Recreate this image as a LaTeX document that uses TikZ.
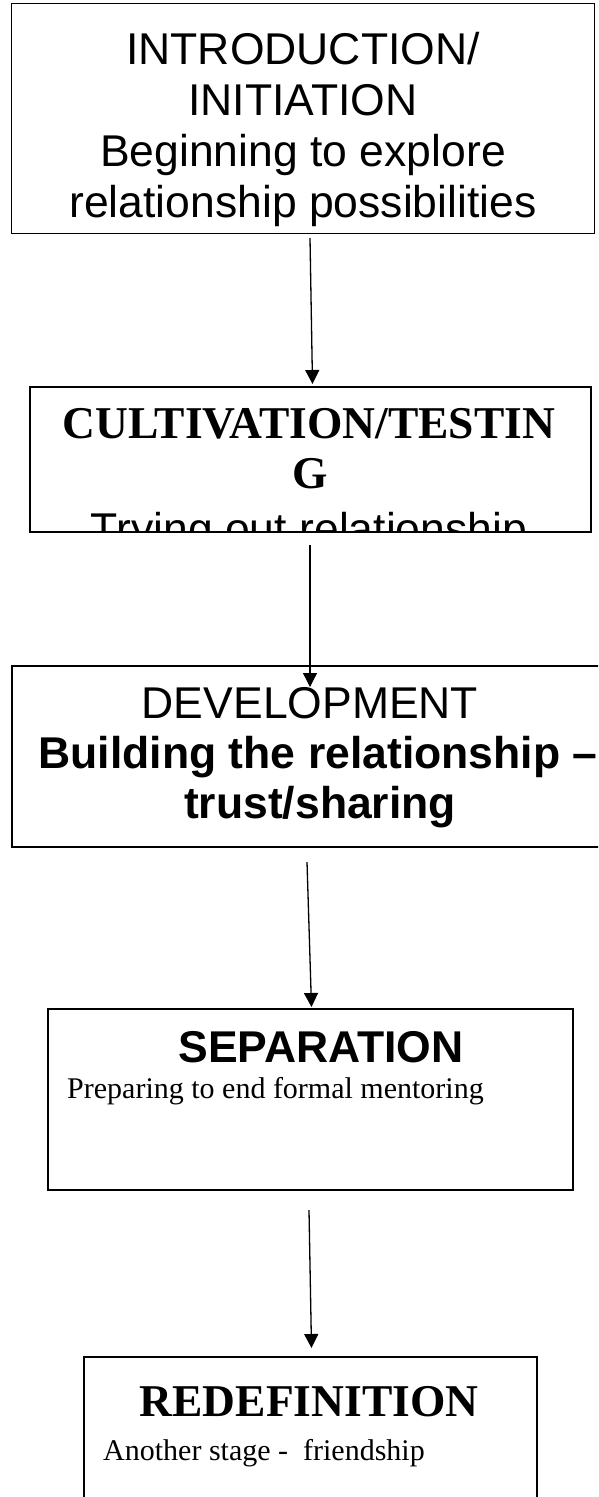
\documentclass[tikz,border=0pt]{standalone}
\usepackage{fontspec}
\setmainfont{Liberation Serif}
\newfontfamily\arialf{Liberation Sans}
\usetikzlibrary{arrows.meta}
\tikzset{
  stagebox/.style={draw=black, line width=1.6pt, rectangle, inner sep=0pt, anchor=north west},
  sansreg/.style={anchor=base, inner sep=0pt, font=\arialf\fontsize{44.5}{50}\selectfont},
  sansbold/.style={anchor=base, inner sep=0pt, font=\arialf\bfseries\fontsize{44.5}{50}\selectfont},
  serifbold/.style={anchor=base, inner sep=0pt, font=\bfseries\fontsize{45.5}{50}\selectfont},
  serifreg/.style={anchor=base west, inner sep=0pt, font=\fontsize{30}{34}\selectfont},
  flowarrow/.style={line width=1.3pt, -{Triangle[width=14pt,length=14pt]}}
}
\begin{document}
\begin{tikzpicture}[x=1pt,y=-1pt]
\clip (0,0) rectangle (598,1497);
\fill[white] (0,0) rectangle (598,1497);
% Box 1
\node[stagebox, minimum width=583pt, minimum height=230pt] (b1) at (10.7,2.5) {};
\node[sansreg] (t1a) at (303,64) {INTRODUCTION/};
\node[sansreg] (t1b) at (303,115) {INITIATION};
\node[sansreg] (t1c) at (303,166) {Beginning to explore};
\node[sansreg] (t1d) at (303,217) {relationship possibilities};
% Box 2
\begin{scope}
\clip (29,386) rectangle (590,531);
\node[serifbold] (t2a) at (309,438) {CULTIVATION/TESTIN};
\node[serifbold] (t2b) at (310,488) {G};
\node[sansreg] (t2c) at (309,544) {Trying out relationship};
\end{scope}
\node[stagebox, minimum width=561pt, minimum height=145pt] (b2) at (29,386) {};
% Box 3
\node[stagebox, minimum width=620pt, minimum height=181pt] (b3) at (11,665) {};
\node[sansreg] (t3a) at (310,718) {DEVELOPMENT};
\node[sansbold] (t3b) at (318,768) {Building the relationship –};
\node[sansbold] (t3c) at (320,818) {trust/sharing};
% Box 4
\node[stagebox, minimum width=525pt, minimum height=181pt] (b4) at (47,1008) {};
\node[sansbold] (t4a) at (321,1062) {SEPARATION};
\node[serifreg] (t4b) at (67,1098) {Preparing to end formal mentoring};
% Box 5
\node[stagebox, minimum width=453pt, minimum height=200pt] (b5) at (83,1356) {};
\node[serifbold] (t5a) at (309,1416) {REDEFINITION};
\node[serifreg] (t5b) at (103,1460) {Another stage -\ \ friendship};
% Arrows
\coordinate (a1s) at (310,238);
\coordinate (a1e) at (312.5,384);
\coordinate (a2s) at (310,545);
\coordinate (a2e) at (310,687);
\coordinate (a3s) at (307,862);
\coordinate (a3e) at (311.5,1007);
\coordinate (a4s) at (309,1210);
\coordinate (a4e) at (311.5,1348);
\draw[flowarrow] (a1s) -- (a1e);
\draw[flowarrow] (a2s) -- (a2e);
\draw[flowarrow] (a3s) -- (a3e);
\draw[flowarrow] (a4s) -- (a4e);
\end{tikzpicture}
\end{document}
